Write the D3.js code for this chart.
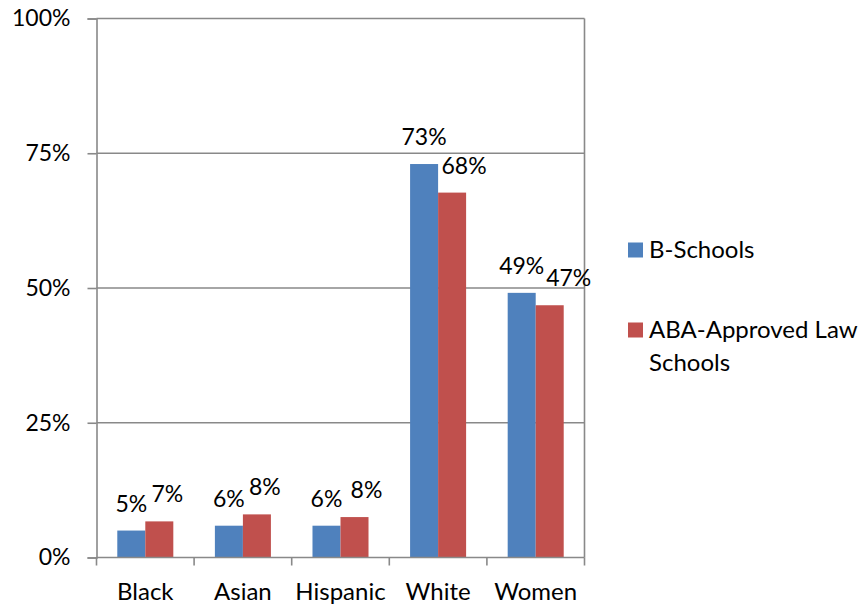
<!DOCTYPE HTML>
<html lang="en">
<head>
    <meta charset="utf-8" />
    <title>B-Schools vs Law Schools</title>
    <style>
        body { margin: 0; background: #fff; }
        text { font-family: Lato, "Open Sans", sans-serif; fill: #000; }
    </style>
</head>
<body>
    <div id="chart"></div>
    <script src="https://d3js.org/d3.v7.min.js"></script>
    <script>
        const categories = ['Black', 'Asian', 'Hispanic', 'White', 'Women'];
        const bSchools = [5.0, 5.9, 5.9, 73.0, 49.1];
        const lawSchools = [6.7, 8.0, 7.5, 67.7, 46.8];
        const seriesNames = ['B-Schools', 'ABA-Approved Law Schools'];
        const yTicks = [0, 25, 50, 75, 100];

        const width = 859;
        const height = 605;
        const plot = { left: 96.5, right: 584.5, top: 18.5, bottom: 557.5 };
        const colors = ['#4f81bd', '#c0504d'];
        const gridColor = '#898989';
        const fontSize = 24;
        const numberSize = 23;
        // excel nudged some labels sideways to avoid overlaps
        const labelShift = [[0, 0, 0, 0, 0], [8, 8, 12, 12, 19]];

        const series = [bSchools, lawSchools];

        const svg = d3.select('#chart')
            .append('svg')
            .attr('width', width)
            .attr('height', height);

        const x = d3.scaleBand()
            .domain(categories)
            .range([plot.left, plot.right])
            .paddingInner(0.426)
            .paddingOuter(0.213);

        const xSub = d3.scaleBand()
            .domain(d3.range(series.length))
            .range([0, x.bandwidth()]);

        const y = d3.scaleLinear()
            .domain([0, 100])
            .range([plot.bottom, plot.top]);

        // gridlines
        svg.append('g')
            .selectAll('line')
            .data(yTicks.slice(1))
            .enter()
            .append('line')
            .attr('x1', plot.left)
            .attr('x2', plot.right)
            .attr('y1', d => y(d))
            .attr('y2', d => y(d))
            .attr('stroke', gridColor)
            .attr('stroke-width', 1.6);

        // right border of plot area
        svg.append('line')
            .attr('x1', plot.right)
            .attr('x2', plot.right)
            .attr('y1', plot.top)
            .attr('y2', plot.bottom)
            .attr('stroke', gridColor)
            .attr('stroke-width', 1.6);

        // bars
        const groups = svg.append('g')
            .selectAll('g')
            .data(series)
            .enter()
            .append('g')
            .attr('fill', (d, i) => colors[i]);

        groups.selectAll('rect')
            .data((d, si) => d.map((v, ci) => ({ v, ci, si })))
            .enter()
            .append('rect')
            .attr('x', d => x(categories[d.ci]) + xSub(d.si))
            .attr('width', xSub.bandwidth())
            .attr('y', d => y(d.v))
            .attr('height', d => y(0) - y(d.v));

        // data labels
        groups.selectAll('text')
            .data((d, si) => d.map((v, ci) => ({ v, ci, si })))
            .enter()
            .append('text')
            .attr('x', d => x(categories[d.ci]) + xSub(d.si) + xSub.bandwidth() / 2 + labelShift[d.si][d.ci])
            .attr('y', d => y(d.v) - 19)
            .attr('text-anchor', 'middle')
            .style('font-size', numberSize + 'px')
            .text(d => Math.round(d.v) + '%');

        // y axis
        const yAxis = d3.axisLeft(y)
            .tickValues(yTicks)
            .tickSize(9)
            .tickPadding(17)
            .tickFormat(d => d + '%');

        const yg = svg.append('g')
            .attr('transform', `translate(${plot.left},0)`)
            .call(yAxis);
        yg.select('.domain').attr('stroke', gridColor).attr('stroke-width', 1.6);
        yg.selectAll('.tick line').attr('stroke', gridColor).attr('stroke-width', 1.6);
        yg.selectAll('.tick text')
            .style('font-size', numberSize + 'px')
            .style('font-family', 'Lato, sans-serif')
            .attr('fill', '#000');

        // x axis: labels at band centres, ticks at band edges
        const xg = svg.append('g')
            .attr('transform', `translate(0,${plot.bottom})`)
            .call(d3.axisBottom(x).tickSize(0).tickPadding(25.5));
        xg.select('.domain').remove();
        xg.selectAll('.tick text')
            .style('font-size', fontSize + 'px')
            .style('font-family', 'Lato, sans-serif')
            .attr('fill', '#000');

        svg.append('line')
            .attr('x1', plot.left)
            .attr('x2', plot.right)
            .attr('y1', plot.bottom)
            .attr('y2', plot.bottom)
            .attr('stroke', gridColor)
            .attr('stroke-width', 1.6);

        svg.append('g')
            .selectAll('line')
            .data(d3.range(categories.length + 1))
            .enter()
            .append('line')
            .attr('x1', i => plot.left + i * x.step())
            .attr('x2', i => plot.left + i * x.step())
            .attr('y1', plot.bottom)
            .attr('y2', plot.bottom + 8)
            .attr('stroke', gridColor)
            .attr('stroke-width', 1.6);

        // legend
        const legendX = 628;
        const legendRows = [250, 330];
        const legend = svg.append('g')
            .selectAll('g')
            .data(seriesNames)
            .enter()
            .append('g')
            .attr('transform', (d, i) => `translate(${legendX},${legendRows[i]})`);

        legend.append('rect')
            .attr('x', 0)
            .attr('y', -7.5)
            .attr('width', 15)
            .attr('height', 15)
            .attr('fill', (d, i) => colors[i]);

        const legendText = legend.append('text')
            .attr('x', 21)
            .attr('y', 8)
            .style('font-size', fontSize + 'px');

        // wrap long names onto a second line like excel does
        legendText.each(function (d) {
            const t = d3.select(this);
            const words = d.split(' ');
            const lines = words.length > 2 ? [words.slice(0, -1).join(' '), words[words.length - 1]] : [d];
            lines.forEach((line, k) => {
                t.append('tspan')
                    .attr('x', 21)
                    .attr('dy', k === 0 ? 0 : 33)
                    .text(line);
            });
        });
    </script>
</body>
</html>
